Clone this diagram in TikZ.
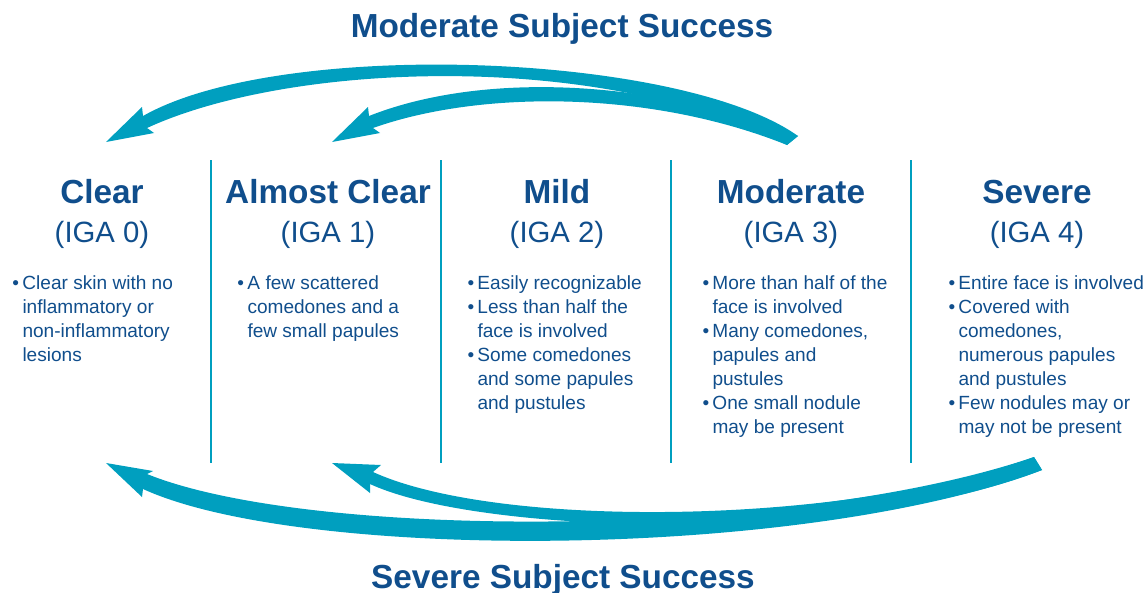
\documentclass[tikz,border=0pt]{standalone}
\usepackage{fontspec}
\setmainfont{Liberation Sans}
\definecolor{iganavy}{RGB}{16,78,140}
\definecolor{igateal}{RGB}{0,159,191}
\newcommand{\bul}{\llap{\textbullet\hspace{2.5pt}}}

\tikzset{every picture/.style={line width=0.75pt}}
\tikzset{
	banner/.style={font=\fontsize{25}{30}\selectfont\bfseries, text=iganavy, inner sep=0pt, anchor=base},
	grade/.style={font=\fontsize{25}{30}\selectfont\bfseries, text=iganavy, inner sep=0pt, anchor=base},
	score/.style={font=\fontsize{22}{26}\selectfont, text=iganavy, inner sep=0pt, anchor=base},
	points/.style={font=\fontsize{14.3}{18}\selectfont, text=iganavy, inner sep=0pt, anchor=north west, align=left},
	divider/.style={draw=igateal, line width=1.5pt},
	sweep/.style={fill=igateal, draw=none}
}

\begin{document}
\begin{tikzpicture}[x=0.75pt,y=0.75pt,yscale=-1,xscale=1]
	\useasboundingbox (0,0) rectangle (1148,592);

	%Titles
	\node[banner] (moderateSuccess) at (562,38) {Moderate Subject Success};
	\node[banner] (severeSuccess) at (563,588) {Severe Subject Success};

	%Straight Lines: column dividers
	\draw[divider] (211,160) -- (211,463);
	\draw[divider] (441,160) -- (441,463);
	\draw[divider] (671,160) -- (671,463);
	\draw[divider] (911,160) -- (911,463);

	%Grades
	\node[grade] (clear) at (102,203) {Clear};
	\node[score] (clearIGA) at (102,242) {(IGA 0)};
	\node[grade] (almost) at (328,203) {Almost Clear};
	\node[score] (almostIGA) at (328,242) {(IGA 1)};
	\node[grade] (mild) at (557,203) {Mild};
	\node[score] (mildIGA) at (557,242) {(IGA 2)};
	\node[grade] (moderate) at (791,203) {Moderate};
	\node[score] (moderateIGA) at (791,242) {(IGA 3)};
	\node[grade] (severe) at (1037,203) {Severe};
	\node[score] (severeIGA) at (1037,242) {(IGA 4)};

	%Descriptions
	\node[points] (clearNotes) at (22,275.3) {\bul Clear skin with no\\inflammatory or\\non-inflammatory\\lesions};
	\node[points] (almostNotes) at (247,275.3) {\bul A few scattered\\comedones and a\\few small papules};
	\node[points] (mildNotes) at (477,275.3) {\bul Easily recognizable\\\bul Less than half the\\face is involved\\\bul Some comedones\\and some papules\\and pustules};
	\node[points] (moderateNotes) at (712,275.3) {\bul More than half of the\\face is involved\\\bul Many comedones,\\papules and\\pustules\\\bul One small nodule\\may be present};
	\node[points] (severeNotes) at (958,275.3) {\bul Entire face is involved\\\bul Covered with\\comedones,\\numerous papules\\and pustules\\\bul Few nodules may or\\may not be present};

	%Curve Arrow: top, to Clear
	\fill[sweep] (106,142) -- (142,107) -- (143,116) .. controls (280,38) and (680,52) .. (798,136) -- (787,145) .. controls (600,50) and (290,62) .. (147,128) -- (154,133) -- cycle ;
	%Curve Arrow: top, to Almost Clear
	\fill[sweep] (332,142) -- (368,107) -- (369,116) .. controls (480,72) and (650,78) .. (798,136) -- (787,145) .. controls (650,90) and (480,90) .. (373,128) -- (380,133) -- cycle ;
	%Curve Arrow: bottom, to Clear
	\fill[sweep] (106,463) -- (153,471) -- (147,474) .. controls (310,540) and (790,540) .. (1034,457) -- (1042,470) .. controls (800,561) and (300,561) .. (143,489) -- (142,497) -- cycle ;
	%Curve Arrow: bottom, to Almost Clear
	\fill[sweep] (332,463) -- (381,465) -- (373,472) .. controls (500,530) and (850,525) .. (1034,457) -- (1042,470) .. controls (850,545) and (480,535) .. (370,484) -- (370,493) -- cycle ;

\end{tikzpicture}
\end{document}
